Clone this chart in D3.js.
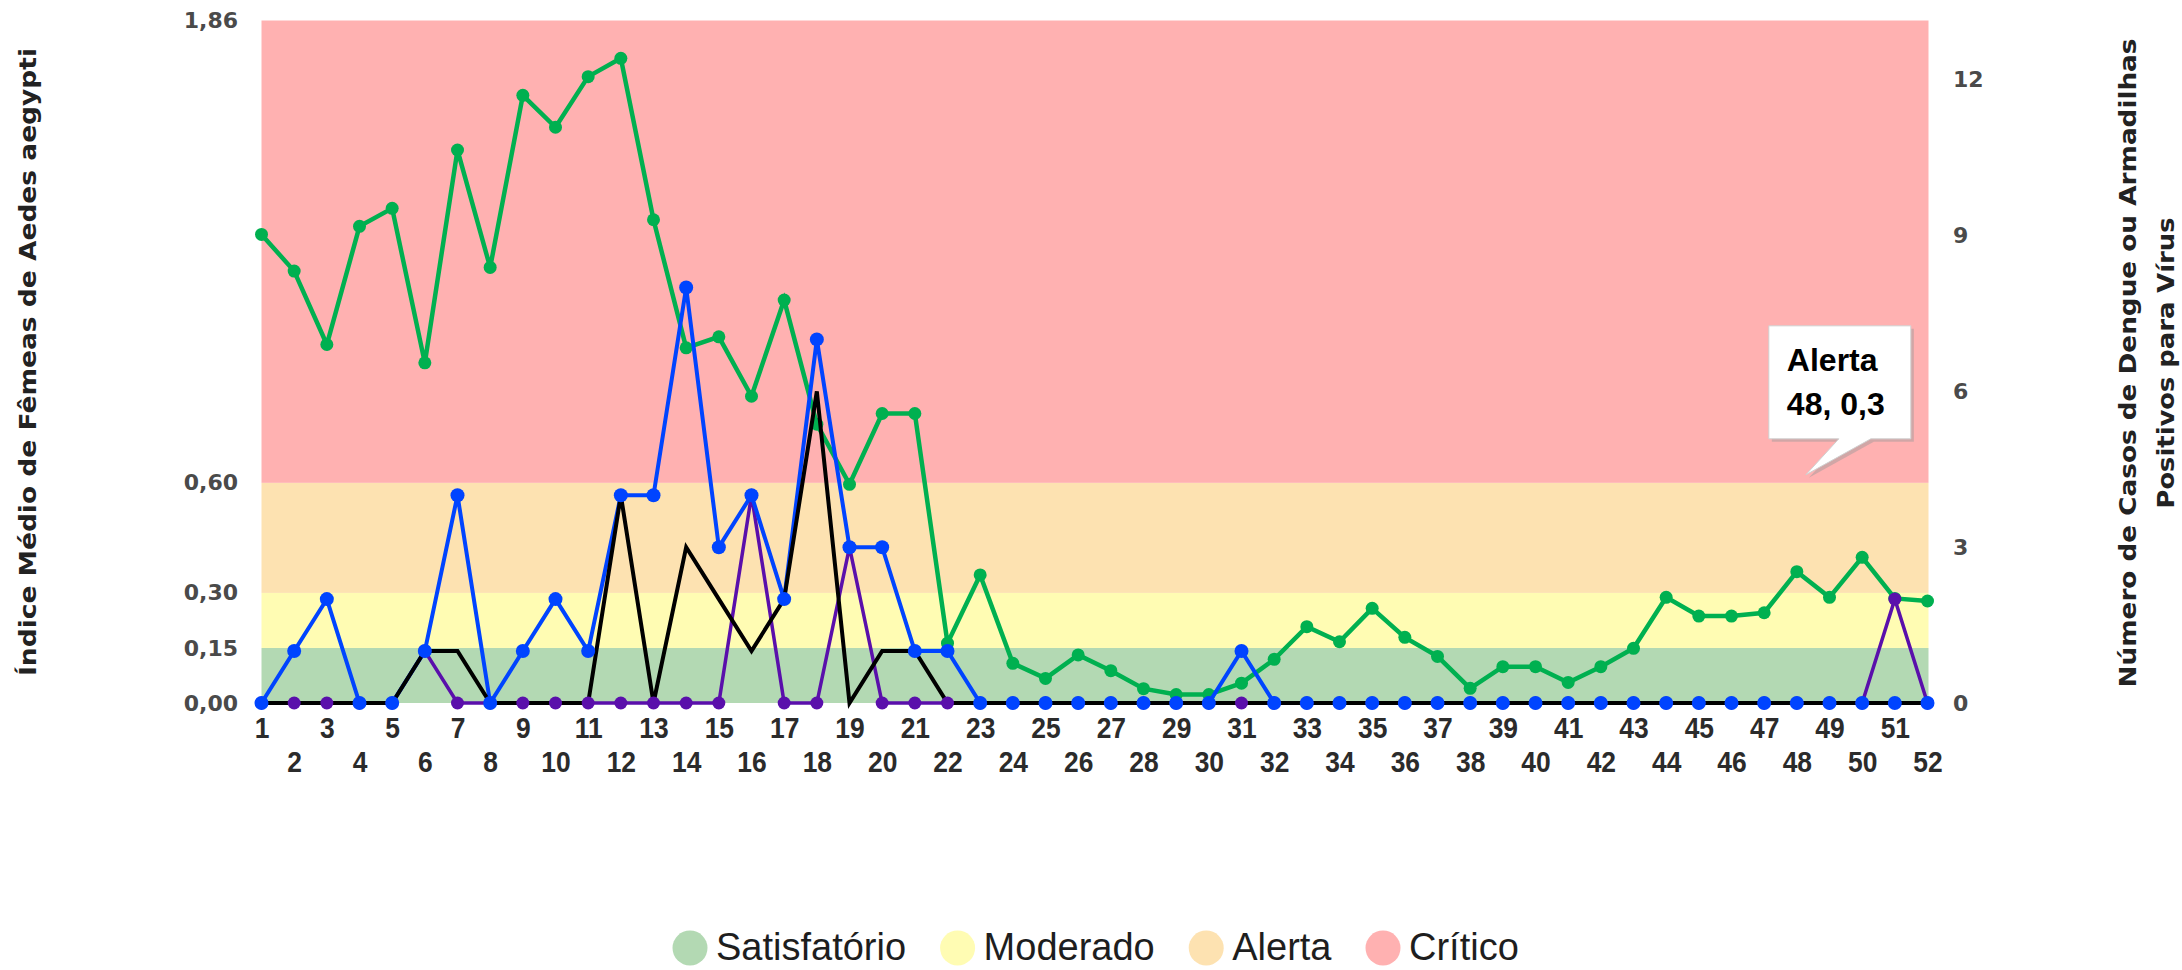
<!DOCTYPE html>
<html>
<head>
<meta charset="utf-8">
<script src="https://cdn.jsdelivr.net/npm/d3@7/dist/d3.min.js"></script>
<style>
  body { margin: 0; background: #fff; }
  svg { display: block; }
</style>
</head>
<body>
<div id="chart"></div>
<script>
// semanas epidemiologicas
const semanas = [1, 2, 3, 4, 5, 6, 7, 8, 9, 10, 11, 12, 13, 14, 15, 16, 17, 18, 19, 20, 21, 22, 23, 24, 25, 26,
  27, 28, 29, 30, 31, 32, 33, 34, 35, 36, 37, 38, 39, 40, 41, 42, 43, 44, 45, 46, 47, 48, 49, 50, 51, 52]

// indice medio de femeas (eixo esquerdo)
const indiceFemeas = [1.277, 1.177, 0.977, 1.299, 1.348, 0.927, 1.507, 1.187, 1.656, 1.569, 1.707, 1.757, 1.317,
  0.968, 0.998, 0.836, 1.098, 0.760, 0.596, 0.789, 0.789, 0.163, 0.349, 0.108, 0.067, 0.131, 0.088, 0.039, 0.023,
  0.023, 0.054, 0.119, 0.208, 0.167, 0.258, 0.179, 0.127, 0.040, 0.099, 0.099, 0.056, 0.099, 0.149, 0.288, 0.237,
  0.237, 0.246, 0.358, 0.288, 0.397, 0.285, 0.278]

// contagens (eixo direito)
const casosNotificados = [0, 1, 2, 0, 0, 1, 4, 0, 1, 2, 1, 4, 4, 8, 3, 4, 2, 7, 3, 3, 1, 1, 0, 0, 0, 0,
  0, 0, 0, 0, 1, 0, 0, 0, 0, 0, 0, 0, 0, 0, 0, 0, 0, 0, 0, 0, 0, 0, 0, 0, 0, 0]
const casosConfirmados = [0, 0, 0, 0, 0, 1, 1, 0, 0, 0, 0, 4, 0, 3, 2, 1, 2, 6, 0, 1, 1, 0, 0, 0, 0, 0,
  0, 0, 0, 0, 0, 0, 0, 0, 0, 0, 0, 0, 0, 0, 0, 0, 0, 0, 0, 0, 0, 0, 0, 0, 0, 0]
const armadilhasPositivas = [0, 0, 0, 0, 0, 1, 0, 0, 0, 0, 0, 0, 0, 0, 0, 4, 0, 0, 3, 0, 0, 0, 0, 0, 0, 0,
  0, 0, 0, 0, 0, 0, 0, 0, 0, 0, 0, 0, 0, 0, 0, 0, 0, 0, 0, 0, 0, 0, 0, 0, 2, 0]

// faixas de risco (empilhadas)
const faixas = ['Satisfatório', 'Moderado', 'Alerta', 'Crítico']
const faixaValores = [0.15, 0.15, 0.30, 1.26]
const faixaCores = ['#b3d9b3', '#fffcb3', '#fde2b1', '#ffb1b1']

const ticksEsquerda = [0, 0.15, 0.30, 0.60, 1.86]
const ticksDireita = [0, 3, 6, 9, 12]

const tituloEsquerda = 'Índice Médio de Fêmeas de Aedes aegypti'
const tituloDireita = ['Número de Casos de Dengue ou Armadilhas', 'Positivos para Vírus']

const tooltipSemana = 48
const tooltipFaixa = 2

const width = 2182
const height = 970
const x0 = 261.5
const x1 = 1927.5
const yBase = 703
const yTop = 20.5

const svg = d3.select('#chart').append('svg')
  .attr('width', width)
  .attr('height', height)

const x = d3.scaleLinear().domain([1, 52]).range([x0, x1])
const yL = d3.scaleLinear().domain([0, 1.86]).range([yBase, yTop])
const yR = d3.scaleLinear().domain([0, 13.14]).range([yBase, yTop])

// bands
let acc = 0
const bandas = faixaValores.map((v, i) => {
  const b = { nome: faixas[i], y0: acc, y1: acc + v, cor: faixaCores[i] }
  acc += v
  return b
})
svg.append('g').selectAll('rect')
  .data(bandas)
  .enter()
  .append('rect')
  .attr('x', x(1))
  .attr('width', x(52) - x(1) + 1)
  .attr('y', d => yL(d.y1))
  .attr('height', d => yL(d.y0) - yL(d.y1))
  .attr('fill', d => d.cor)

const fmt = d => d3.format('.2f')(d).replace('.', ',')

// left axis
const axL = svg.append('g')
  .attr('transform', 'translate(' + x0 + ',0)')
  .call(d3.axisLeft(yL).tickValues(ticksEsquerda).tickFormat(fmt).tickSize(0).tickPadding(23.5))
axL.select('.domain').remove()
axL.selectAll('text')
  .attr('font-family', 'DejaVu Sans')
  .attr('font-weight', 'bold')
  .attr('font-size', 22)
  .attr('fill', '#4a4a4a')

// right axis
const axR = svg.append('g')
  .attr('transform', 'translate(' + x1 + ',0)')
  .call(d3.axisRight(yR).tickValues(ticksDireita).tickFormat(d3.format('d')).tickSize(0).tickPadding(25.5))
axR.select('.domain').remove()
axR.selectAll('text')
  .attr('font-family', 'DejaVu Sans')
  .attr('font-weight', 'bold')
  .attr('font-size', 22)
  .attr('fill', '#4a4a4a')

// x axis
const axX = svg.append('g')
  .attr('transform', 'translate(0,' + yBase + ')')
  .call(d3.axisBottom(x).tickValues(semanas).tickFormat(d3.format('d')).tickSize(0))
axX.select('.domain').remove()
axX.selectAll('text')
  .attr('y', d => d % 2 ? 24.5 : 58)
  .attr('dy', '0.36em')
  .attr('font-family', 'Liberation Sans')
  .attr('font-weight', 'bold')
  .attr('font-size', 30)
  .attr('fill', '#2b2b2b')
  .attr('transform', 'scale(0.88,1)')

// lines
function drawLine (values, scale, color, w) {
  const line = d3.line()
    .x((d, i) => x(semanas[i]))
    .y(d => scale(d))
  svg.append('path')
    .datum(values)
    .attr('d', line)
    .attr('fill', 'none')
    .attr('stroke', color)
    .attr('stroke-width', w)
    .attr('stroke-linejoin', 'miter')
}
function drawDots (values, scale, color, r) {
  svg.append('g').selectAll('circle')
    .data(values)
    .enter()
    .append('circle')
    .attr('cx', (d, i) => x(semanas[i]))
    .attr('cy', d => scale(d))
    .attr('r', r)
    .attr('fill', color)
}

const verde = '#00b050'
const azul = '#0044ff'
const roxo = '#5a0fab'

drawLine(indiceFemeas, yL, verde, 4.5)
drawDots(indiceFemeas, yL, verde, 6.5)
drawLine(armadilhasPositivas, yR, roxo, 3.5)
drawLine(casosNotificados, yR, azul, 4)
drawLine(casosConfirmados, yR, '#000', 4)
drawDots(armadilhasPositivas, yR, roxo, 6.5)
drawDots(casosNotificados, yR, azul, 7)

// axis titles
svg.append('text')
  .attr('transform', 'translate(27.5,362) rotate(-90)')
  .attr('text-anchor', 'middle')
  .attr('dominant-baseline', 'central')
  .attr('font-family', 'DejaVu Sans')
  .attr('font-weight', 'bold')
  .attr('font-size', 23)
  .attr('fill', '#222')
  .attr('textLength', 628)
  .attr('lengthAdjust', 'spacingAndGlyphs')
  .text(tituloEsquerda)

svg.selectAll('.tit-dir')
  .data(tituloDireita)
  .enter()
  .append('text')
  .attr('class', 'tit-dir')
  .attr('transform', (d, i) => 'translate(' + (2127.5 + i * 38) + ',363) rotate(-90)')
  .attr('text-anchor', 'middle')
  .attr('dominant-baseline', 'central')
  .attr('font-family', 'DejaVu Sans')
  .attr('font-weight', 'bold')
  .attr('font-size', 23)
  .attr('fill', '#222')
  .attr('textLength', (d, i) => i === 0 ? 649 : 291)
  .attr('lengthAdjust', 'spacingAndGlyphs')
  .text(d => d)

// tooltip
const tipX = x(tooltipSemana) + 9
const tipY = yL(faixaValores[0] + faixaValores[1] + faixaValores[2]) - 8
const tip = svg.append('g').attr('transform', 'translate(' + tipX + ',' + tipY + ')')
const boxPath = 'M-37,-149 H105 V-36 H65 L0,0 L33,-36 H-37 Z'
tip.append('path')
  .attr('d', boxPath)
  .attr('transform', 'translate(3,3)')
  .attr('fill', '#999')
  .attr('fill-opacity', 0.45)
tip.append('path')
  .attr('d', boxPath)
  .attr('fill', '#fff')
  .attr('stroke', '#d0d0d0')
  .attr('stroke-width', 1)
tip.append('text')
  .attr('x', -19)
  .attr('y', -104)
  .attr('font-family', 'Liberation Sans')
  .attr('font-weight', 'bold')
  .attr('font-size', 32)
  .attr('fill', '#000')
  .text(faixas[tooltipFaixa])
tip.append('text')
  .attr('x', -19)
  .attr('y', -60)
  .attr('font-family', 'Liberation Sans')
  .attr('font-weight', 'bold')
  .attr('font-size', 32)
  .attr('fill', '#000')
  .text(tooltipSemana + ', ' + String(faixaValores[tooltipFaixa]).replace('.', ','))

// legend
const leg = svg.append('g')
let cx = 690
faixas.forEach((nome, i) => {
  leg.append('circle')
    .attr('cx', cx)
    .attr('cy', 948)
    .attr('r', 17.5)
    .attr('fill', faixaCores[i])
  const t = leg.append('text')
    .attr('x', cx + 26)
    .attr('y', 960)
    .attr('font-family', 'Liberation Sans')
    .attr('font-size', 38)
    .attr('fill', '#1e1e1e')
    .text(nome)
  const w = t.node().getComputedTextLength()
  cx = cx + 26 + w + 34 + 17.5
})
</script>
</body>
</html>
